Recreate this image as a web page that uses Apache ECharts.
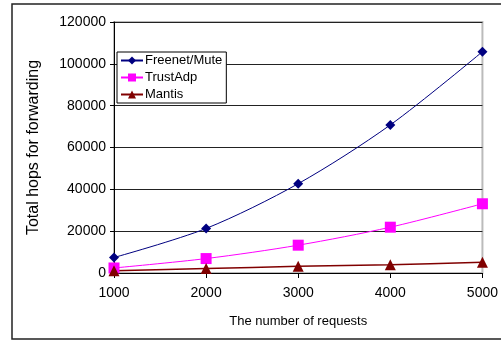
<!DOCTYPE html>
<html><head><meta charset="utf-8">
<script src="https://cdn.jsdelivr.net/npm/echarts@6/dist/echarts.min.js"></script>
<style>html,body{margin:0;padding:0;background:#fff}#c{width:501px;height:344px}</style>
</head><body><div id="c"></div>
<script>
const requests = [1000, 2000, 3000, 4000, 5000];
const freenetMute = [7400, 21300, 42700, 70800, 105800];
const trustAdp = [2400, 6900, 13300, 21900, 33100];
const mantis = [1100, 2100, 3200, 4000, 5100];
const yTicks = [0, 20000, 40000, 60000, 80000, 100000, 120000];

const chart = echarts.init(document.getElementById('c'), null, {renderer: 'canvas'});
const font = 'Liberation Sans, Arial, sans-serif';
function mk(name, vals, color, symbol, size, lw) {
  return {
    name, type: 'line', smooth: 0.3,
    data: requests.map((x, i) => [x, vals[i]]),
    symbol, symbolSize: size,
    itemStyle: {color},
    lineStyle: {color, width: lw},
    emphasis: {disabled: true}
  };
}
chart.setOption({
  animation: false,
  backgroundColor: '#fff',
  graphic: [{
    type: 'rect', shape: {x: 12, y: 4, width: 500, height: 335},
    style: {fill: 'none', stroke: '#222', lineWidth: 1.5}, z: -1
  }],
  grid: {left: 114, right: 17, top: 22, bottom: 71, show: true, borderColor: '#bbb', borderWidth: 2, backgroundColor: 'transparent'},
  legend: {
    orient: 'vertical', left: 117, top: 52,
    data: ['Freenet/Mute', 'TrustAdp', 'Mantis'],
    backgroundColor: '#fff', borderColor: '#000', borderWidth: 1,
    padding: [2, 4, 2, 3], itemGap: 4, itemWidth: 22, itemHeight: 10,
    textStyle: {fontFamily: font, fontSize: 13, color: '#000', padding: [0, 0, 0, -3]}
  },
  xAxis: {
    type: 'value', min: 1000, max: 5000, interval: 1000,
    name: 'The number of requests', nameLocation: 'middle', nameGap: 42,
    nameTextStyle: {fontFamily: font, fontSize: 13, color: '#000'},
    axisLine: {show: true, onZero: false, lineStyle: {color: '#000', width: 1}},
    axisTick: {show: true, length: 5, lineStyle: {color: '#000'}},
    axisLabel: {fontFamily: font, fontSize: 14, color: '#000', margin: 13, formatter: v => String(v)},
    splitLine: {show: false}
  },
  yAxis: {
    type: 'value', min: 0, max: 120000, interval: 20000,
    name: 'Total hops for forwarding', nameLocation: 'middle', nameGap: 72,
    nameTextStyle: {fontFamily: font, fontSize: 16, color: '#000'},
    axisLine: {show: true, lineStyle: {color: '#000', width: 1}},
    axisTick: {show: true, length: 4, lineStyle: {color: '#000'}},
    axisLabel: {fontFamily: font, fontSize: 14, color: '#000', margin: 8,
      formatter: v => yTicks.includes(v) ? String(v) : ''},
    splitLine: {show: true, lineStyle: {color: '#222', width: 1}}
  },
  series: [
    mk('Freenet/Mute', freenetMute, '#000080', 'diamond', 10, 1),
    mk('TrustAdp', trustAdp, '#ff00ff', 'rect', 11, 1),
    mk('Mantis', mantis, '#800000', 'triangle', 11, 1.5)
  ]
});
</script></body></html>
